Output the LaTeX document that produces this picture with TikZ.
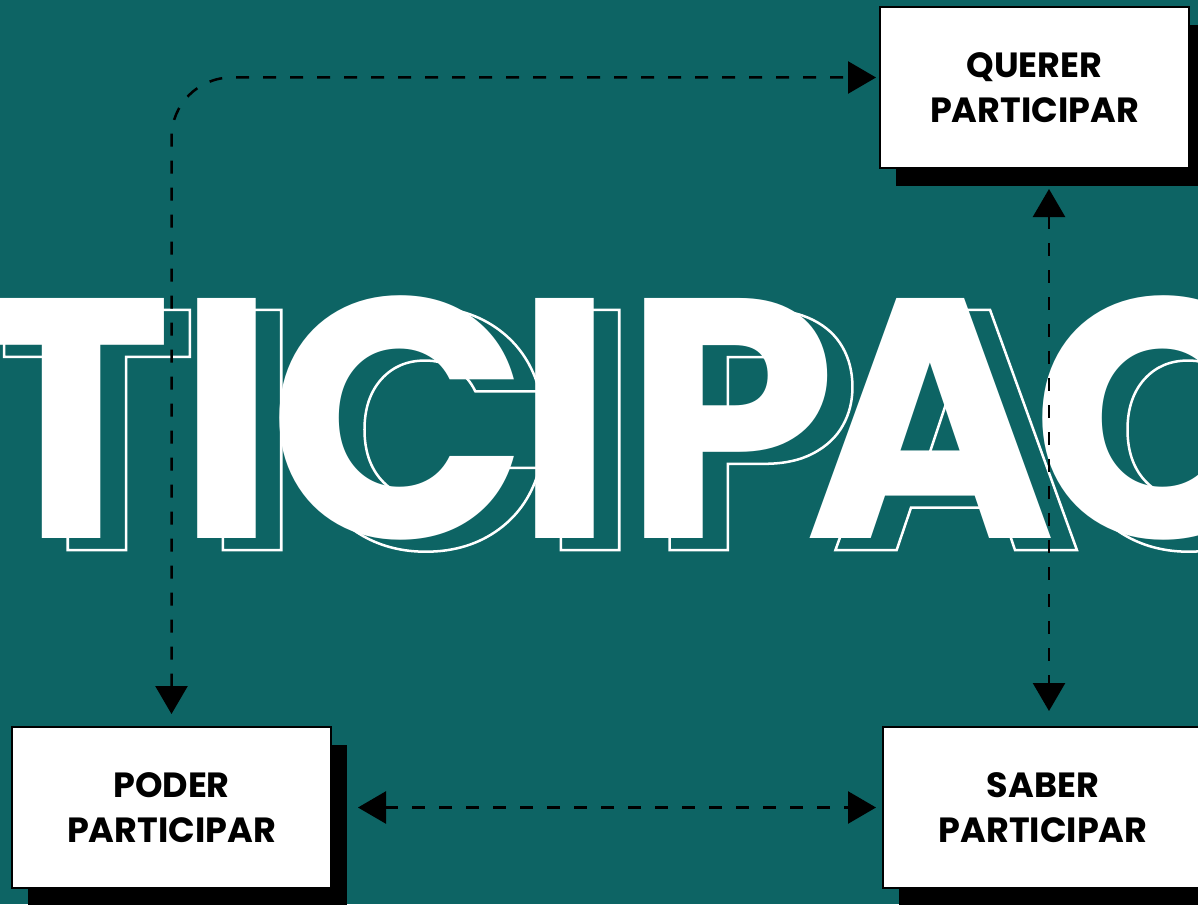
\documentclass[tikz,border=0pt]{standalone}
\usepackage{fontspec}
\setmainfont{Poppins}
\newfontfamily\bigfont{Poppins}[UprightFont=* Bold]
\usetikzlibrary{arrows.meta,positioning,shadows}
\definecolor{bgteal}{RGB}{13,100,100}
% glyphs drawn as outlines only (text render mode 1)
\newcommand\hollow[1]{\special{pdf:literal direct q 1 Tr 2.5 w}#1\special{pdf:literal direct Q}}

\begin{document}
\begin{tikzpicture}[x=1pt, y=-1pt, every node/.style={inner sep=0pt},
		partbox/.style={draw=black, line width=2pt, fill=white, minimum height=161pt, align=center,
			font=\bfseries\fontsize{35}{45}\selectfont,
			drop shadow={shadow xshift=16pt, shadow yshift=-18pt, fill=black, opacity=1}},
		link/.style={draw=black, line width=2.5pt, dash pattern=on 13pt off 14pt,
			{Triangle[width=32pt,length=28pt]}-{Triangle[width=32pt,length=28pt]}},
		bigtext/.style={anchor=base, text=white, font=\bigfont\fontsize{342}{342}\selectfont}]
	\fill[bgteal] (0,0) rectangle (1198,904);
	\clip (0,0) rectangle (1198,904);
	% outlined copy behind
	\foreach \ch/\cx [count=\i] in {T/72,I/227,C/399,I/565,P/730,A/931,C/1162}
		\node[bigtext] (shade\i) at (\cx+25,550) {\hollow{\ch}};
	\foreach \ch/\cx [count=\i] in {T/72,I/227,C/399,I/565,P/730,A/931,C/1162}
		\node[bigtext] (word\i) at (\cx,538) {\ch};
	% the three boxes
	\node[partbox, minimum width=309pt] (querer) at (1034.5,87.5) {QUERER\\PARTICIPAR};
	\node[partbox, minimum width=319pt] (poder) at (171.5,807.5) {PODER\\PARTICIPAR};
	\node[partbox, minimum width=320pt] (saber) at (1043,807.5) {SABER\\PARTICIPAR};
	\coordinate (rx) at (1049,0);
	\draw[link, rounded corners=60pt] ([yshift=12pt]poder.north) |- ([shift={(-3pt,10pt)}]querer.west);
	\draw[link] ([yshift=-20pt]querer.south -| rx) -- ([yshift=15pt]saber.north -| rx);
	\draw[link] ([xshift=26pt]poder.east) -- ([xshift=-6pt]saber.west);
\end{tikzpicture}
\end{document}
